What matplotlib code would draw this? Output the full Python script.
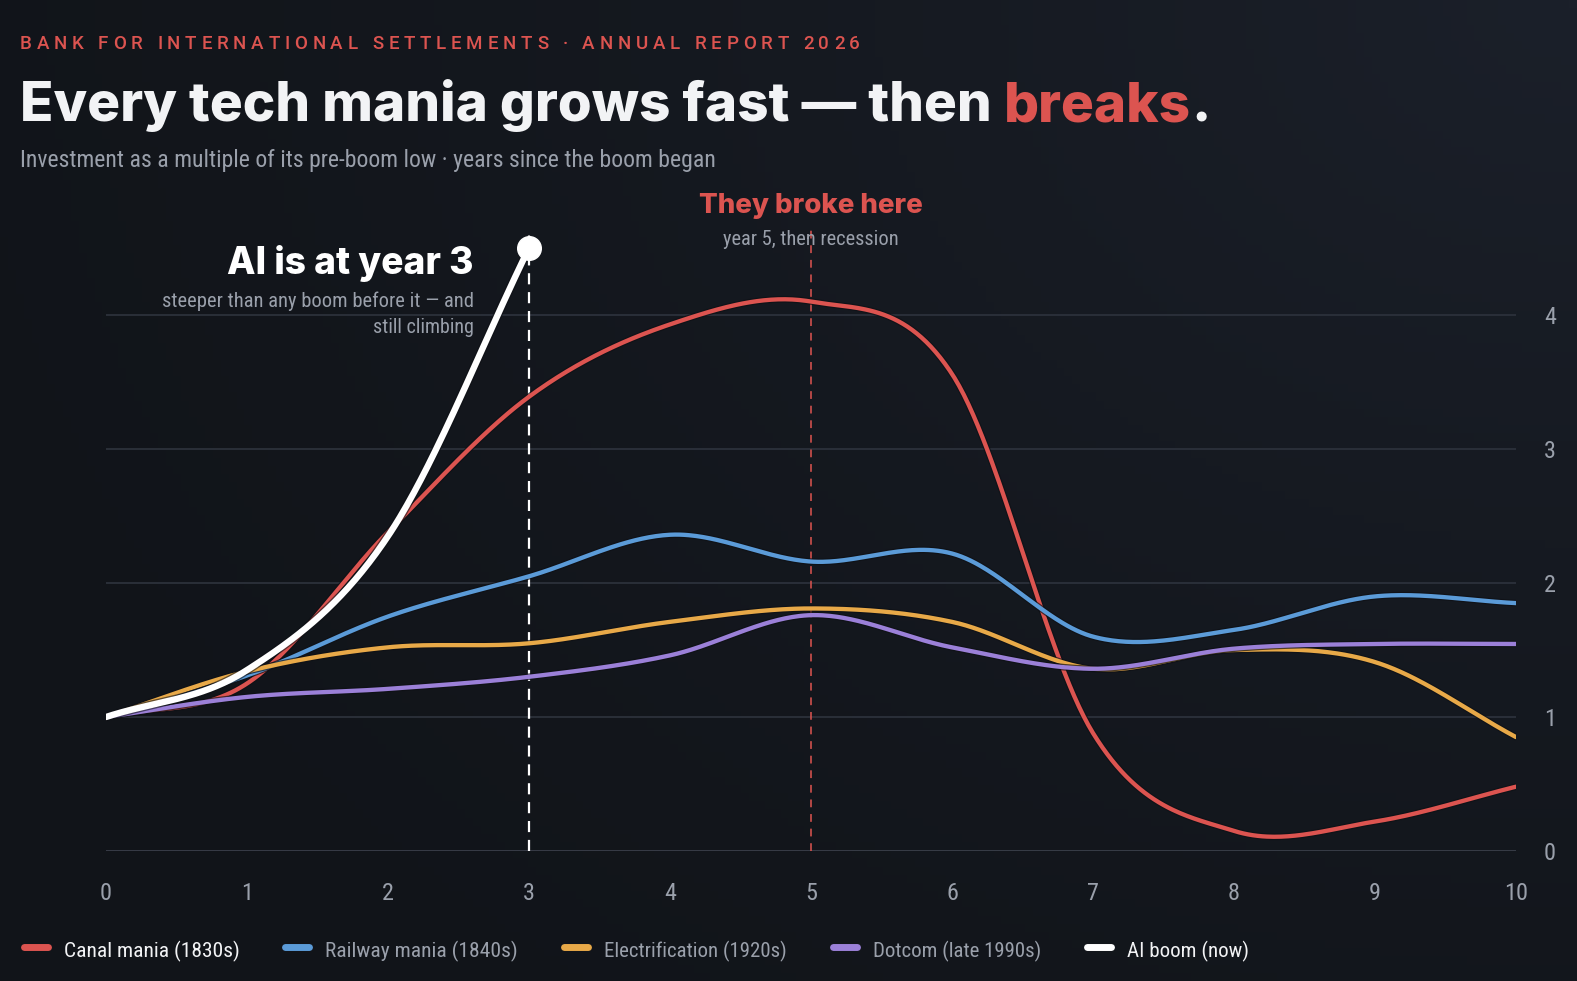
import numpy as np
import matplotlib
matplotlib.use("Agg")
from matplotlib import pyplot as plt
from matplotlib import font_manager as fm
from matplotlib.lines import Line2D
import matplotlib.patheffects as pe

# ---- data ----
years = [0, 1, 2, 3, 4, 5, 6, 7, 8, 9, 10]
canal = [1.0, 1.25, 2.38, 3.39, 3.93, 4.1, 3.56, 0.88, 0.15, 0.22, 0.48]
railway = [1.0, 1.31, 1.75, 2.05, 2.36, 2.16, 2.22, 1.6, 1.65, 1.9, 1.85]
electrification = [1.0, 1.34, 1.52, 1.55, 1.71, 1.81, 1.71, 1.36, 1.5, 1.41, 0.85]
dotcom = [1.0, 1.15, 1.21, 1.3, 1.46, 1.76, 1.52, 1.36, 1.51, 1.545, 1.545]
ai_years = [0, 1, 2, 3]
ai_boom = [1.0, 1.35, 2.35, 4.5]

series_names = ["Canal mania (1830s)", "Railway mania (1840s)",
                "Electrification (1920s)", "Dotcom (late 1990s)", "AI boom (now)"]
series_colors = ["#dc5450", "#5b9bd8", "#e8a948", "#9b80d8", "#ffffff"]
y_ticks = [0, 1, 2, 3, 4]

BG = "#13161d"
GRID = "#2c313b"
MUTED = "#9aa0ab"

installed = {f.name for f in fm.fontManager.ttflist}
def pick(*names):
    for n in names:
        if n in installed:
            return n
    return "DejaVu Sans"

NARROW = pick("Roboto Condensed", "Liberation Sans Narrow", "Archivo Narrow", "DejaVu Sans")
BOLD = pick("Inter", "Roboto", "Liberation Sans")
PLAIN = pick("Roboto", "Inter", "Liberation Sans")

W, H = 1577, 981
fig = plt.figure(figsize=(W / 100, H / 100), dpi=100)
fig.patch.set_facecolor(BG)

# background gradient (lighter at top right)
bg = fig.add_axes([0, 0, 1, 1], zorder=-10)
gx, gy = np.meshgrid(np.linspace(0, 1, 200), np.linspace(0, 1, 120))
d = np.clip(1 - np.hypot(1 - gx, (1 - gy) * 0.8) / 1.2, 0, 1)
c0 = np.array([0x11, 0x14, 0x19]) / 255
c1 = np.array([0x1b, 0x20, 0x2a]) / 255
img = c0 + (c1 - c0) * d[..., None] ** 1.5
bg.imshow(img, origin="lower", aspect="auto", extent=[0, 1, 0, 1])
bg.axis("off")


def catmull(xs, ys, n=60):
    xs = np.asarray(xs, float)
    ys = np.asarray(ys, float)
    m = np.zeros_like(ys)
    m[1:-1] = (ys[2:] - ys[:-2]) / 2
    m[0] = ys[1] - ys[0]
    m[-1] = ys[-1] - ys[-2]
    ox, oy = [], []
    for i in range(len(xs) - 1):
        t = np.linspace(0, 1, n, endpoint=False)
        h00 = 2 * t**3 - 3 * t**2 + 1
        h10 = t**3 - 2 * t**2 + t
        h01 = -2 * t**3 + 3 * t**2
        h11 = t**3 - t**2
        ox.append(xs[i] + t * (xs[i + 1] - xs[i]))
        oy.append(h00 * ys[i] + h10 * m[i] + h01 * ys[i + 1] + h11 * m[i + 1])
    ox.append([xs[-1]])
    oy.append([ys[-1]])
    return np.concatenate(ox), np.concatenate(oy)


ymax = 4.7
ax = fig.add_axes([106 / W, 1 - 851 / H, 1410 / W, ymax * 134 / H])
ax.set_facecolor("none")
ax.set_xlim(0, 10)
ax.set_ylim(0, ymax)
for s in ax.spines.values():
    s.set_visible(False)
for v in y_ticks:
    ax.axhline(v, color="#3a3f4a" if v == 0 else GRID, lw=1.3, zorder=1)

ax.yaxis.tick_right()
ax.set_yticks(y_ticks)
ax.set_xticks(years)
ax.tick_params(length=0, colors=MUTED, labelsize=17.5)
ax.tick_params(axis="y", pad=20)
ax.tick_params(axis="x", pad=22)
for lab in ax.get_xticklabels() + ax.get_yticklabels():
    lab.set_fontfamily(NARROW)

outline = [pe.Stroke(linewidth=4.8, foreground="#0e1015", alpha=0.7), pe.Normal()]
for ys, col in zip([canal, railway, electrification, dotcom], series_colors[:4]):
    sx, sy = catmull(years, ys)
    ax.plot(sx, sy, color=col, lw=3.1, solid_capstyle="round", zorder=3,
            path_effects=outline)

# marker lines
ax.plot([3, 3], [0, 4.65], color="white", lw=1.6, dashes=(5, 3.5), zorder=2)
ax.plot([5, 5], [0, 4.65], color="#dc5450", lw=1.4, alpha=0.8, dashes=(4, 3.5), zorder=2)

ax_x, ax_y = catmull(ai_years, ai_boom)
ax.plot(ax_x, ax_y, color="white", lw=4.6, solid_capstyle="round", zorder=5,
        path_effects=[pe.Stroke(linewidth=6.5, foreground="#0e1015", alpha=0.6), pe.Normal()])
ax.plot(ai_years[-1], ai_boom[-1], "o", color="white", ms=17, zorder=6)

renderer = fig.canvas.get_renderer()


def fitted(x, y, s, width, ha="left", **kw):
    t = fig.text(x / W, 1 - y / H, s, ha=ha, va="baseline", **kw)
    w = t.get_window_extent(renderer).width
    t.set_fontsize(t.get_fontsize() * width / w)
    return t


def tracked(x, y, s, width, **kw):
    # lay out letter by letter so the spacing can be opened up to a given width
    arts, widths = [], []
    for ch in s:
        t = fig.text(x / W, 1 - y / H, ch, va="baseline", **kw)
        if ch == " ":
            w = t.get_fontsize() * 0.26 * 100 / 72
        else:
            w = t.get_window_extent(renderer).width
        arts.append(t)
        widths.append(w)
    track = (width - sum(widths)) / (len(s) - 1)
    for t, w in zip(arts, widths):
        t.set_x(x / W)
        x += w + track


# header
tracked(20, 49, "BANK FOR INTERNATIONAL SETTLEMENTS · ANNUAL REPORT 2026", 840,
        color="#dc5450", fontsize=13.5, fontfamily=PLAIN, fontweight="medium")

# title in three pieces
title_parts = [("Every tech mania grows fast — then ", "#f2f3f5"),
               ("breaks", "#dc5450"), (".", "#f2f3f5")]
fs = 40
total = 0
for s, c in title_parts:
    t = fig.text(0, 0, s, fontsize=fs, fontweight="heavy", fontfamily=BOLD)
    total += t.get_window_extent(renderer).width
    t.remove()
fs = fs * 1190 / total
xx = 20
for s, c in title_parts:
    t = fig.text(xx / W, 1 - 121 / H, s, fontsize=fs, fontweight="heavy",
                 fontfamily=BOLD, color=c, va="baseline")
    xx += t.get_window_extent(renderer).width

fitted(20, 167, "Investment as a multiple of its pre-boom low · years since the boom began",
       697, color=MUTED, fontsize=16, fontfamily=NARROW)

# annotations
fitted(811, 213, "They broke here", 224, ha="center", color="#dc5450",
       fontsize=20, fontweight="heavy", fontfamily=BOLD)
fitted(811, 245, "year 5, then recession", 175, ha="center", color=MUTED,
       fontsize=13, fontfamily=NARROW)
fitted(474, 274, "AI is at year 3", 246, ha="right", color="white",
       fontsize=26, fontweight="heavy", fontfamily=BOLD)
fitted(474, 307, "steeper than any boom before it — and", 309, ha="right",
       color=MUTED, fontsize=13, fontfamily=NARROW)
fitted(474, 333, "still climbing", 100, ha="right", color=MUTED, fontsize=13,
       fontfamily=NARROW)

# legend
leg_x = [22, 283, 562, 831, 1085]
leg_w = [176, 193, 183, 169, 122]
leg_col = ["#f2f3f5", MUTED, MUTED, MUTED, "#f2f3f5"]
for x0, wdt, name, col, tc in zip(leg_x, leg_w, series_names, series_colors, leg_col):
    fig.add_artist(Line2D([(x0 + 2) / W, (x0 + 26) / W], [1 - 947 / H] * 2,
                          color=col, lw=5, solid_capstyle="round"))
    fitted(x0 + 42, 957, name, wdt, color=tc, fontsize=15, fontfamily=NARROW)

fig.savefig("out.png", dpi=100, facecolor=BG)
